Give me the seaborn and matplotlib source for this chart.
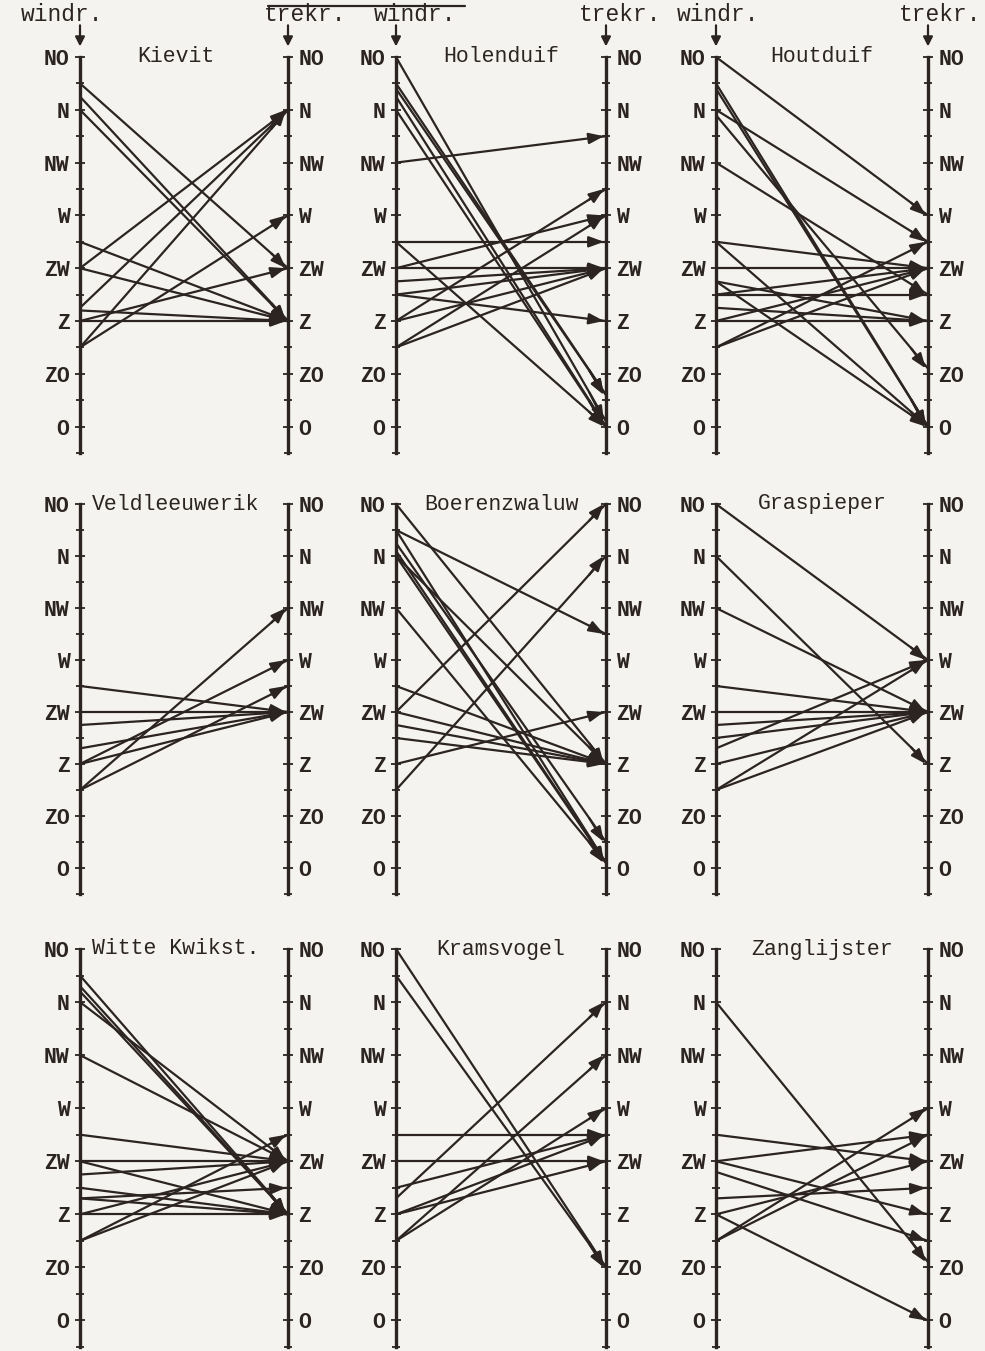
import numpy as np
import pandas as pd
import matplotlib
matplotlib.use("Agg")
import matplotlib.pyplot as plt
from matplotlib.lines import Line2D
import seaborn as sns

# --- compass scale: O = 1 ... NO = 8 (half steps are ticks) ---
dir_labels = ['O', 'ZO', 'Z', 'ZW', 'W', 'NW', 'N', 'NO']
dir_values = [1, 2, 3, 4, 5, 6, 7, 8]

species = ['Kievit', 'Holenduif', 'Houtduif',
           'Veldleeuwerik', 'Boerenzwaluw', 'Graspieper',
           'Witte Kwikst.', 'Kramsvogel', 'Zanglijster']

# wind direction (windr.) -> migration direction (trekr.) per observation day
kievit_windr = [7.5, 7.25, 7.0, 4.5, 4.0, 4.0, 3.25, 3.2, 3.0, 3.0, 2.5, 2.5]
kievit_trekr = [4.0, 3.0, 3.0, 3.0, 7.0, 3.0, 7.0, 3.0, 3.0, 4.0, 7.0, 5.0]

holenduif_windr = [8.0, 7.5, 7.4, 7.25, 7.0, 6.0, 4.5, 4.5, 4.0, 4.0, 3.75, 3.5, 3.5, 3.0, 3.0, 2.5, 2.5]
holenduif_trekr = [1.1, 1.6, 1.6, 1.0, 1.0, 6.5, 4.5, 1.0, 4.0, 5.0, 4.0, 4.0, 3.0, 5.5, 4.0, 5.0, 4.0]

houtduif_windr = [8.0, 7.5, 7.4, 7.0, 6.9, 6.0, 4.5, 4.5, 4.0, 3.75, 3.75, 3.5, 3.5, 3.25, 3.0, 3.0, 2.5, 2.5]
houtduif_trekr = [5.0, 1.0, 1.0, 4.5, 2.1, 3.5, 4.0, 1.0, 4.0, 3.0, 1.0, 3.5, 4.0, 3.0, 3.0, 4.0, 4.5, 4.0]

veldleeuwerik_windr = [4.5, 4.0, 3.75, 3.3, 3.0, 3.0, 2.5, 2.5]
veldleeuwerik_trekr = [4.0, 4.0, 4.0, 4.0, 5.0, 4.0, 6.0, 4.5]

boerenzwaluw_windr = [8.0, 7.5, 7.5, 7.25, 7.1, 7.0, 7.0, 6.0, 4.5, 4.0, 4.0, 3.75, 3.5, 3.0, 2.5]
boerenzwaluw_trekr = [3.0, 5.5, 1.1, 1.5, 1.1, 1.1, 3.0, 1.1, 3.0, 3.0, 8.0, 3.0, 3.0, 4.0, 7.0]

graspieper_windr = [8.0, 7.0, 6.0, 4.5, 4.0, 3.75, 3.5, 3.3, 3.0, 2.5, 2.5]
graspieper_trekr = [5.0, 3.0, 4.0, 4.0, 4.0, 4.0, 4.0, 5.0, 4.0, 5.0, 4.0]

kwikstaart_windr = [7.5, 7.3, 7.2, 7.0, 6.0, 4.5, 4.0, 4.0, 3.75, 3.5, 3.3, 3.3, 3.0, 3.0, 2.5, 2.5]
kwikstaart_trekr = [3.0, 3.0, 3.0, 4.0, 4.0, 4.0, 4.0, 3.0, 4.0, 3.0, 3.5, 3.0, 3.0, 4.0, 4.5, 4.0]

kramsvogel_windr = [8.0, 7.5, 4.5, 4.0, 3.5, 3.3, 3.0, 3.0, 2.5, 2.5]
kramsvogel_trekr = [2.0, 2.0, 4.5, 4.0, 4.5, 7.0, 4.5, 4.0, 6.0, 5.0]

zanglijster_windr = [7.0, 4.5, 4.0, 4.0, 3.8, 3.3, 3.0, 3.0, 2.5, 2.5]
zanglijster_trekr = [2.1, 4.0, 4.5, 3.0, 2.5, 3.5, 4.0, 1.0, 5.0, 4.5]

windr_all = [kievit_windr, holenduif_windr, houtduif_windr,
             veldleeuwerik_windr, boerenzwaluw_windr, graspieper_windr,
             kwikstaart_windr, kramsvogel_windr, zanglijster_windr]
trekr_all = [kievit_trekr, holenduif_trekr, houtduif_trekr,
             veldleeuwerik_trekr, boerenzwaluw_trekr, graspieper_trekr,
             kwikstaart_trekr, kramsvogel_trekr, zanglijster_trekr]

# --- style ---
sns.set_style("ticks")
plt.rcParams['font.family'] = ['Liberation Mono', 'DejaVu Sans Mono']
paper = '#f5f3ef'
ink = '#2b2421'

W, H = 985, 1351
fig = plt.figure(figsize=(W / 100, H / 100), dpi=100, facecolor=paper)

# panel frame in pixels
col_left = [80, 396, 716]
col_right = [288, 606, 928]
row_top = [57, 504, 949]
row_bottom = [453, 894, 1347]
# header text offsets (px) from the axis line, as typed on the original
windr_dx = [-18, 19, 2]
trekr_dx = [17, 14, 12]
title_dx = [-8, 0, 0]

for i, name in enumerate(species):
    r, c = divmod(i, 3)
    l, rt = col_left[c], col_right[c]
    t, b = row_top[r], row_bottom[r]
    pw = rt - l
    ax = fig.add_axes([l / W, 1 - b / H, pw / W, (b - t) / H])
    ax.set_facecolor('none')

    w = windr_all[i]
    tr = trekr_all[i]
    df = pd.DataFrame({
        'id': np.repeat(np.arange(len(w)), 2),
        'side': [0, 1] * len(w),
        'dir': np.ravel(np.column_stack([w, tr])),
    })
    sns.lineplot(data=df, x='side', y='dir', units='id', estimator=None,
                 color=ink, lw=1.6, ax=ax, legend=False)
    for ln in ax.lines:
        ln.set_clip_on(False)

    # arrowheads at the trekr. axis
    for a, z in zip(w, tr):
        f = 0.08
        ax.annotate('', xy=(0.99, z), xytext=(1 - f, z - (z - a) * f),
                    arrowprops=dict(arrowstyle='-|>,head_length=0.9,head_width=0.33',
                                    color=ink, lw=1.6, shrinkA=0, shrinkB=0),
                    annotation_clip=False)

    ax.set_xlim(0, 1)
    ax.set_ylim(0.5, 8)
    ax.set_xlabel('')
    ax.set_ylabel('')
    ax.set_xticks([])
    ax.set_yticks(dir_values, dir_labels)
    ax.set_yticks(np.arange(0.5, 8.01, 0.5), minor=True)
    for s in ['top', 'bottom']:
        ax.spines[s].set_visible(False)
    for s in ['left', 'right']:
        ax.spines[s].set_linewidth(2.4)
        ax.spines[s].set_color(ink)
    ax.tick_params(axis='y', which='both', direction='inout', length=7, width=1.3,
                   left=True, right=True, labelleft=True, labelright=True,
                   colors=ink, pad=4, labelsize=15.5)
    ax.tick_params(axis='y', which='minor', length=6)
    for tk in ax.yaxis.get_major_ticks():
        tk.label1.set_fontweight('bold')
        tk.label2.set_fontweight('bold')

    ax.text(0.5 + title_dx[c] / pw, 8.0, name, ha='center', va='center',
            fontsize=15.5, color=ink)

    # column headers above the top row
    if r == 0:
        for x0, lab, dx in [(0, 'windr.', windr_dx[c]), (1, 'trekr.', trekr_dx[c])]:
            ax.annotate('', xy=(x0, 8.2), xytext=(x0, 8.6),
                        arrowprops=dict(arrowstyle='-|>,head_length=0.55,head_width=0.28',
                                        color=ink, lw=1.6, shrinkA=0, shrinkB=0),
                        annotation_clip=False)
            ax.text(x0 + dx / pw, 8.8, lab, ha='center', va='center',
                    fontsize=16.5, color=ink, clip_on=False)

# underline of the cut-off caption line at the very top
fig.add_artist(Line2D([268 / W, 465 / W], [1 - 6 / H, 1 - 6 / H], color=ink, lw=1.6))

fig.savefig("out.png", dpi=100, facecolor=paper)
